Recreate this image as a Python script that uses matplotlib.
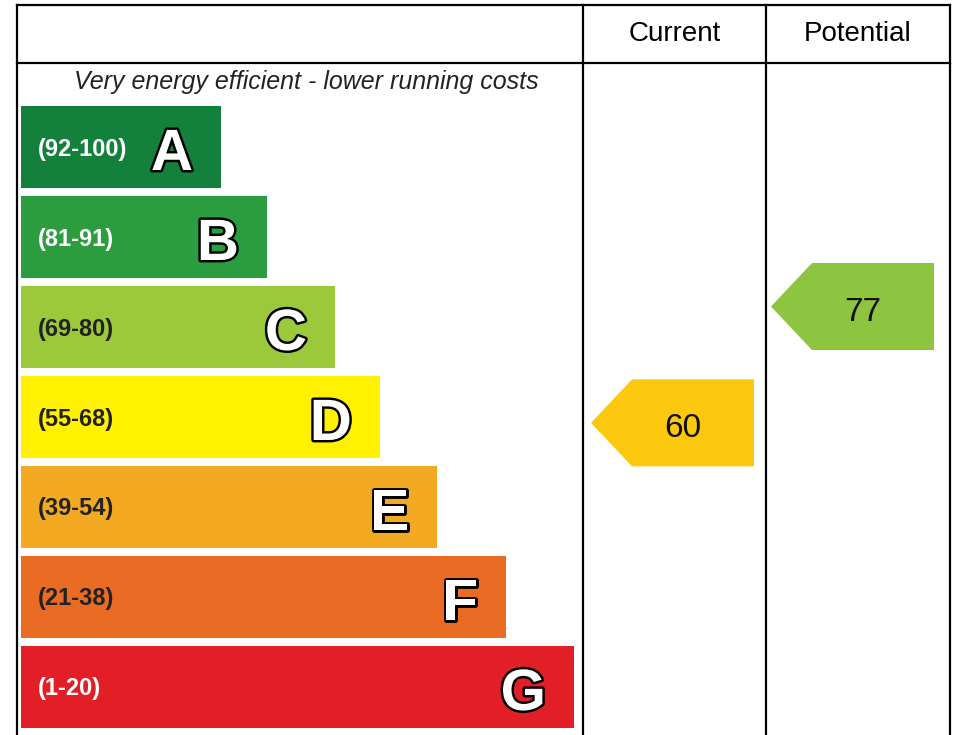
"""Energy efficiency rating chart (EPC style)."""
import matplotlib
matplotlib.use("Agg")
import matplotlib.pyplot as plt
from matplotlib.patches import Polygon
import matplotlib.patheffects as pe

# bands, score ranges and colours
bands = ["A", "B", "C", "D", "E", "F", "G"]
band_low = [92, 81, 69, 55, 39, 21, 1]
band_high = [100, 91, 80, 68, 54, 38, 20]
band_labels = ["(92-100)", "(81-91)", "(69-80)", "(55-68)", "(39-54)", "(21-38)", "(1-20)"]
band_colors = ["#13803c", "#2b9d3e", "#9cc83c", "#fff100", "#f3a922", "#ea6b24", "#e21e26"]
label_colors = ["white", "white", "#222222", "#222222", "#222222", "#222222", "white"]

# ratings
current_score = 60
potential_score = 77
current_color = "#fcc80e"
potential_color = "#8dc540"

# layout (figure pixels)
W, H = 965, 735
bar_left = 21
bar_lengths = [200, 246, 314, 359, 416, 485, 553]
row_top0, row_step, row_h = 106, 90, 82
frame_l, frame_r, frame_t = 17, 950, 5
col1, col2, header_y = 583, 766, 63

fig = plt.figure(figsize=(W / 100, H / 100), dpi=100)
ax = fig.add_axes([0, 0, 1, 1])
ax.set_xlim(0, W)
ax.set_ylim(H, 0)
ax.axis("off")

# bars
row_centers = [row_top0 + row_h / 2 + i * row_step for i in range(len(bands))]
ax.barh(row_centers, bar_lengths, height=row_h, left=bar_left, color=band_colors)

for i, band in enumerate(bands):
    yc = row_centers[i]
    ax.text(bar_left + 17, yc + 2, band_labels[i], ha="left", va="center",
            fontsize=17, fontweight="bold", color=label_colors[i],
            family="Liberation Sans")
    ax.text(bar_left + bar_lengths[i] - 28, yc + 23, band, ha="right",
            va="baseline", fontsize=42, fontweight="bold", color="white",
            family="Liberation Sans",
            path_effects=[pe.withStroke(linewidth=3.5, foreground="black")])

# frame
lw = 1.6
ax.plot([frame_l, frame_r], [frame_t, frame_t], color="black", lw=lw)
ax.plot([frame_l, frame_r], [header_y, header_y], color="black", lw=lw)
for x in (frame_l, col1, col2, frame_r):
    ax.plot([x, x], [frame_t, H + 5], color="black", lw=lw)

ax.text((col1 + col2) / 2, 34, "Current", ha="center", va="center",
        fontsize=20, family="Liberation Sans")
ax.text((col2 + frame_r) / 2, 34, "Potential", ha="center", va="center",
        fontsize=20, family="Liberation Sans")
ax.text(306, 82, "Very energy efficient - lower running costs", ha="center",
        va="center", fontsize=18, style="italic", family="Liberation Sans",
        color="#222222")


def score_y(score):
    # vertical position of the arrow inside its band
    for i in range(len(bands)):
        if band_low[i] <= score <= band_high[i]:
            top = row_top0 + i * row_step
            frac = (band_high[i] - score) / (band_high[i] - band_low[i] + 1)
            return top + frac * row_h
    return None


def arrow(x_tip, x_right, score, color):
    yc = score_y(score)
    half = 43.5
    shoulder = x_tip + 41
    pts = [(x_tip, yc), (shoulder, yc - half), (x_right, yc - half),
           (x_right, yc + half), (shoulder, yc + half)]
    ax.add_patch(Polygon(pts, closed=True, color=color, lw=0))
    ax.text((shoulder + x_right) / 2 - 10, yc + 14, str(score), ha="center",
            va="baseline", fontsize=24, color="#111111", family="Liberation Sans")


arrow(591, 754, current_score, current_color)
arrow(771, 934, potential_score, potential_color)

fig.savefig("out.png", dpi=100)
